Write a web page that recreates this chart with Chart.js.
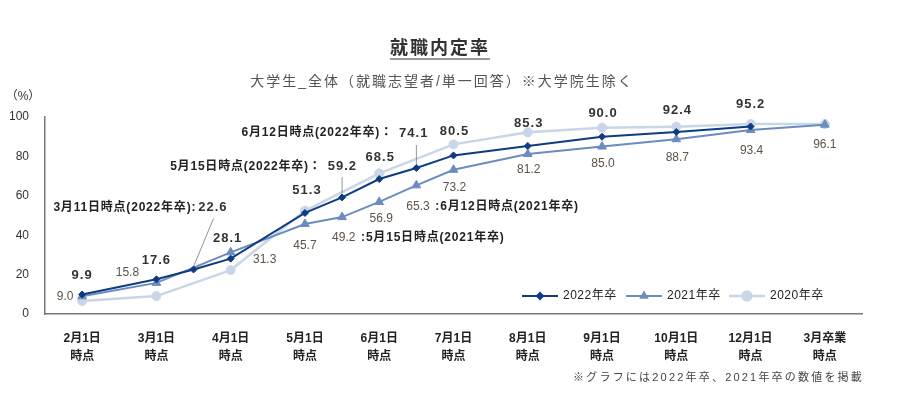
<!DOCTYPE html>
<html lang="ja">
<head>
<meta charset="UTF-8">
<title>就職内定率</title>
<script src="https://cdn.jsdelivr.net/npm/chart.js@4.4.1/dist/chart.umd.min.js"></script>
<style>
  html, body { margin: 0; background: #fff; }
  .wrap { width: 905px; height: 393px; }
</style>
</head>
<body>
<div class="wrap"><canvas id="rateChart"></canvas></div>
<script>
const FONT = '"Liberation Sans", "Noto Sans CJK JP", sans-serif';

// axis ticks (one per month column)
const tickLabels = [
  ['2月1日', '時点'], ['3月1日', '時点'], ['4月1日', '時点'], ['5月1日', '時点'],
  ['6月1日', '時点'], ['7月1日', '時点'], ['8月1日', '時点'], ['9月1日', '時点'],
  ['10月1日', '時点'], ['12月1日', '時点'], ['3月卒業', '時点']
];

// survey dates and their place on the month axis
const pointDates = ['2月1日', '3月1日', '3月11日', '4月1日', '5月1日', '5月15日', '6月1日',
  '6月12日', '7月1日', '8月1日', '9月1日', '10月1日', '12月1日', '3月卒業'];
const pointX = [0, 1, 1.5, 2, 3, 3.5, 4, 4.5, 5, 6, 7, 8, 9, 10];

const rate2022 = [9.9, 17.6, 22.6, 28.1, 51.3, 59.2, 68.5, 74.1, 80.5, 85.3, 90.0, 92.4, 95.2, null];
const rate2021 = [9.0, 15.8, null, 31.3, 45.7, 49.2, 56.9, 65.3, 73.2, 81.2, 85.0, 88.7, 93.4, 96.1];
const rate2020 = [6.6, 9.1, null, 22.3, 52.4, null, 71.4, null, 86.1, 92.2, 94.6, 95.1, 96.4, 96.4];

const seriesNames = ['2022年卒', '2021年卒', '2020年卒'];
const C2022 = '#0e3c80', C2021 = '#6b8cbf', C2020 = '#c9d6e8';

function toPoints(values) {
  return values.map((y, i) => ({ x: pointX[i], y: y, d: i })).filter(p => p.y !== null);
}

// label offsets from the point, by date index
const place2022 = { 0: [0, -19], 1: [0, -19], 3: [-3, -20], 4: [2, -23], 6: [1, -22],
  8: [1, -24], 9: [1, -23], 10: [1, -23], 11: [1, -22], 12: [0, -22] };
const place2021 = { 0: [-17, 0], 1: [-29, -10], 3: [34, 7], 4: [0, 22], 6: [2, 17],
  8: [1, 18], 9: [1, 16], 10: [1, 17], 11: [1, 18], 12: [1, 21], 13: [0, 20] };

function txt(ctx, s, x, y, font, color, align, spacing) {
  ctx.font = font;
  ctx.fillStyle = color;
  ctx.textAlign = align;
  ctx.textBaseline = 'middle';
  ctx.letterSpacing = spacing || '0px';
  ctx.fillText(s, x, y);
  const w = ctx.measureText(s).width;
  ctx.letterSpacing = '0px';
  return w;
}

const decorPlugin = {
  id: 'decor',
  afterDatasetsDraw(chart) {
    const ctx = chart.ctx;
    const area = chart.chartArea;
    ctx.save();

    // title + subtitle
    const tw = txt(ctx, '就職内定率', 440, 49, 'bold 18px ' + FONT, '#333', 'center', '2px');
    ctx.strokeStyle = '#333';
    ctx.lineWidth = 1.2;
    ctx.beginPath();
    ctx.moveTo(440 - tw / 2, 59);
    ctx.lineTo(440 + tw / 2, 59);
    ctx.stroke();
    txt(ctx, '大学生_全体（就職志望者/単一回答）※大学院生除く', 442, 82, '14px ' + FONT, '#555', 'center', '2px');
    txt(ctx, '（%）', 23, 97, '12px ' + FONT, '#333', 'center');
    txt(ctx, '※グラフには2022年卒、2021年卒の数値を掲載', area.right + 2, 378, '11px ' + FONT, '#444', 'right', '2.2px');

    const m22 = chart.getDatasetMeta(0), m21 = chart.getDatasetMeta(1);
    const byDate = (meta) => {
      const out = {};
      meta.data.forEach((el, j) => { out[meta._dataset.data[j].d] = el; });
      return out;
    };
    const p22 = byDate(m22), p21 = byDate(m21);

    // 2022 values
    Object.keys(place2022).forEach(k => {
      const el = p22[k], o = place2022[k];
      txt(ctx, rate2022[k].toFixed(1), el.x + o[0], el.y + o[1], 'bold 13px ' + FONT, '#333', 'center', '1px');
    });
    // 2021 values
    Object.keys(place2021).forEach(k => {
      const el = p21[k], o = place2021[k];
      txt(ctx, rate2021[k].toFixed(1), el.x + o[0], el.y + o[1], '12px ' + FONT, '#5e5246', 'center');
    });

    // call-outs for mid-month surveys (2022)
    const callouts = [
      { d: 2, dx: 34, dy: -62, lead: [[20, -51], [0, -3]], sep: ':' },
      { d: 5, dx: 15, dy: -31, lead: [[0, -20], [0, -4]], sep: '： ' },
      { d: 7, dx: 12, dy: -35, lead: [[0, -23], [0, -4]], sep: '： ' }
    ];
    callouts.forEach(c => {
      const el = p22[c.d];
      const ex = el.x + c.dx, ey = el.y + c.dy;
      const nw = txt(ctx, rate2022[c.d].toFixed(1), ex, ey, 'bold 13px ' + FONT, '#333', 'right', '1px');
      txt(ctx, pointDates[c.d] + '時点(2022年卒)' + c.sep, ex - nw - 2, ey, '600 12px ' + FONT, '#222', 'right', '0.8px');
      ctx.strokeStyle = '#777';
      ctx.lineWidth = 0.8;
      ctx.beginPath();
      ctx.moveTo(el.x + c.lead[0][0], el.y + c.lead[0][1]);
      ctx.lineTo(el.x + c.lead[1][0], el.y + c.lead[1][1]);
      ctx.stroke();
    });

    // call-outs for mid-month surveys (2021)
    [5, 7].forEach(d => {
      const el = p21[d];
      const sx = el.x - 10, sy = el.y + 21;
      txt(ctx, rate2021[d].toFixed(1), sx, sy, '12px ' + FONT, '#5e5246', 'left');
      txt(ctx, ':' + pointDates[d] + '時点(2021年卒)', sx + 29, sy, '600 12px ' + FONT, '#222', 'left', '0.8px');
    });

    // legend
    const styles = [
      { color: C2022, style: 'rectRot', r: 3, w: 2 },
      { color: C2021, style: 'triangle', r: 3.5, w: 2 },
      { color: C2020, style: 'circle', r: 4.5, w: 2.5 }
    ];
    const lx = [522, 626, 729], ly = area.bottom - 18;
    styles.forEach((s, i) => {
      ctx.strokeStyle = s.color;
      ctx.fillStyle = s.color;
      ctx.lineWidth = s.w;
      ctx.beginPath();
      ctx.moveTo(lx[i], ly);
      ctx.lineTo(lx[i] + 36, ly);
      ctx.stroke();
      Chart.helpers.drawPoint(ctx, { pointStyle: s.style, radius: s.r, rotation: 0, borderWidth: 1 }, lx[i] + 18, ly);
      txt(ctx, seriesNames[i], lx[i] + 41, ly, '12px ' + FONT, '#222', 'left', '0.5px');
    });

    ctx.restore();
  }
};

new Chart(document.getElementById('rateChart'), {
  type: 'line',
  data: {
    datasets: [
      {
        label: seriesNames[0], data: toPoints(rate2022),
        borderColor: C2022, backgroundColor: C2022, borderWidth: 2,
        pointStyle: 'rectRot', pointRadius: 3.5, pointBorderWidth: 1
      },
      {
        label: seriesNames[1], data: toPoints(rate2021),
        borderColor: C2021, backgroundColor: C2021, borderWidth: 2,
        pointStyle: 'triangle', pointRadius: 5, pointBorderWidth: 1
      },
      {
        label: seriesNames[2], data: toPoints(rate2020),
        borderColor: C2020, backgroundColor: C2020, borderWidth: 2.5,
        pointStyle: 'circle', pointRadius: 4.5, pointBorderWidth: 1
      }
    ]
  },
  options: {
    responsive: true,
    maintainAspectRatio: false,
    animation: false,
    layout: { padding: { top: 117, right: 43, left: 0, bottom: 0 } },
    plugins: { legend: { display: false }, tooltip: { enabled: false } },
    scales: {
      x: {
        type: 'linear', min: -0.5, max: 10.5,
        grid: { display: false },
        border: { color: '#777', width: 1.5 },
        afterBuildTicks: (s) => { s.ticks = tickLabels.map((_, i) => ({ value: i })); },
        afterFit: (s) => { s.height = 79; },
        ticks: {
          padding: 7, color: '#222', maxRotation: 0, autoSkip: false,
          font: { family: FONT, size: 12, weight: 'bold', lineHeight: 1.55 },
          callback: (v) => tickLabels[v]
        }
      },
      y: {
        min: 0, max: 100,
        grid: { display: false },
        border: { color: '#777', width: 1.5 },
        afterFit: (s) => { s.width = 45; },
        ticks: { stepSize: 20, padding: 8, color: '#333', font: { family: FONT, size: 12 } }
      }
    }
  },
  plugins: [decorPlugin]
});
</script>
</body>
</html>
